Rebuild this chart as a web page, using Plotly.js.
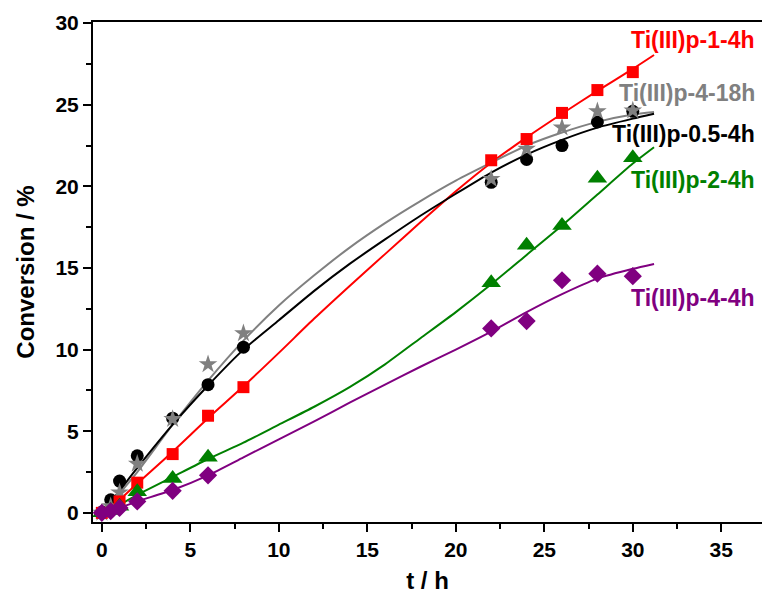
<!DOCTYPE html>
<html><head><meta charset="utf-8">
<script src="https://cdn.plot.ly/plotly-3.0.1.min.js"></script>
<style>html,body{margin:0;padding:0;background:#fff;}</style>
</head><body><div id="chart" style="width:762px;height:595px;"></div>
<script>
// ---- measured data ----
const tBlack = [0, 0.5, 1, 2, 4, 6, 8, 22, 24, 26, 28, 30];
const yBlack = [0.05, 0.8, 1.95, 3.5, 5.8, 7.85, 10.15, 20.25, 21.65, 22.5, 23.95, 24.6];
const tGrey = [0, 0.5, 1, 2, 4, 6, 8, 22, 24, 26, 28, 30];
const yGrey = [0, 0.4, 1.25, 3.0, 5.75, 9.1, 11.0, 20.45, 22.3, 23.6, 24.6, 24.65];
const tRed = [0, 1, 2, 4, 6, 8, 22, 24, 26, 28, 30];
const yRed = [0, 0.7, 1.85, 3.6, 5.95, 7.7, 21.6, 22.9, 24.5, 25.9, 27.0];
const tGreen = [0, 0.5, 1, 2, 4, 6, 22, 24, 26, 28, 30];
const yGreen = [0, 0.15, 0.4, 1.3, 2.1, 3.4, 14.1, 16.4, 17.6, 20.5, 21.75];
const tPurple = [0, 0.5, 1, 2, 4, 6, 22, 24, 26, 28, 30];
const yPurple = [0, 0.1, 0.3, 0.7, 1.35, 2.3, 11.3, 11.75, 14.25, 14.65, 14.5];

// fitted curves
const fitT = [0, 1, 2, 4, 6, 8, 10, 12, 14, 16, 18, 20, 22, 24, 26, 28, 30, 31.2];
const fitRed = [0, 0.8, 1.8, 3.75, 5.8, 7.75, 9.8, 11.9, 13.9, 15.85, 17.8, 19.7, 21.45, 23.0, 24.45, 25.85, 27.2, 28.05];
const fitBlack = [0, 1.35, 2.75, 5.4, 7.8, 10.0, 11.8, 13.6, 15.25, 16.75, 18.2, 19.55, 20.85, 21.95, 22.85, 23.6, 24.15, 24.45];
const fitGrey = [0, 1.2, 2.5, 5.4, 8.1, 10.55, 12.7, 14.55, 16.25, 17.75, 19.1, 20.35, 21.45, 22.5, 23.3, 23.95, 24.4, 24.55];
const fitGreen = [0, 0.5, 1.1, 2.2, 3.3, 4.3, 5.4, 6.5, 7.7, 9.1, 10.7, 12.3, 14.0, 15.8, 17.6, 19.5, 21.4, 22.4];
const fitPurple = [0, 0.3, 0.7, 1.4, 2.3, 3.4, 4.5, 5.6, 6.75, 7.85, 8.95, 10.0, 11.1, 12.3, 13.4, 14.35, 14.95, 15.25];

const seriesNames = ["Ti(III)p-1-4h", "Ti(III)p-4-18h", "Ti(III)p-0.5-4h", "Ti(III)p-2-4h", "Ti(III)p-4-4h"];
const labelY = [28.95, 25.7, 23.2, 20.4, 13.15];
const xTicks = [0, 5, 10, 15, 20, 25, 30, 35];
const yTicks = [0, 5, 10, 15, 20, 25, 30];

const RED = "#FF0000", GREY = "#808080", BLACK = "#000000", GREEN = "#008000", PURPLE = "#800080";
const colors = [RED, GREY, BLACK, GREEN, PURPLE];

function line(y, c) {
  return {x: fitT, y: y, mode: "lines", line: {color: c, width: 2, shape: "spline", smoothing: 0.6}, hoverinfo: "skip"};
}
function pts(x, y, c, sym, size) {
  return {x: x, y: y, mode: "markers", marker: {color: c, symbol: sym, size: size, line: {width: 0}}};
}

const data = [
  line(fitRed, RED), line(fitGrey, GREY), line(fitBlack, BLACK), line(fitGreen, GREEN), line(fitPurple, PURPLE),
  pts(tBlack, yBlack, BLACK, "circle", 13),
  pts(tGrey, yGrey, GREY, "star", 14),
  pts(tRed, yRed, RED, "square", 12),
  pts(tGreen, yGreen, GREEN, "triangle-up", 17),
  pts(tPurple, yPurple, PURPLE, "diamond", 14)
];

const tickFont = {family: "Arial, 'Liberation Sans', sans-serif", size: 21, color: "#000", weight: 700};
const titleFont = {family: "Arial, 'Liberation Sans', sans-serif", size: 24, color: "#000", weight: 700};

const annotations = seriesNames.map((n, i) => ({
  x: 37.0, y: labelY[i], xref: "x", yref: "y", text: n, showarrow: false,
  xanchor: "right", yanchor: "middle",
  font: {family: "Arial, 'Liberation Sans', sans-serif", size: 23, color: colors[i], weight: 700}
}));

const layout = {
  width: 762, height: 595,
  margin: {l: 93, r: 0, t: 22, b: 73},
  paper_bgcolor: "#fff", plot_bgcolor: "#fff",
  showlegend: false,
  xaxis: {
    range: [-0.5, 37.3], tickvals: xTicks, ticks: "outside", ticklen: 8, tickwidth: 2, tickcolor: "#000",
    minor: {ticks: "outside", dtick: 2.5, tick0: 0, ticklen: 5, tickwidth: 2, tickcolor: "#000"},
    showline: true, linewidth: 2, linecolor: "#000", mirror: true,
    showgrid: false, zeroline: false, tickfont: tickFont,
    title: {text: "t / h", font: titleFont, standoff: 12}
  },
  yaxis: {
    range: [-0.56, 30.07], tickvals: yTicks, ticks: "outside", ticklen: 8, tickwidth: 2, tickcolor: "#000",
    minor: {ticks: "outside", dtick: 2.5, tick0: 0, ticklen: 5, tickwidth: 2, tickcolor: "#000"},
    showline: true, linewidth: 2, linecolor: "#000",
    showgrid: false, zeroline: false, tickfont: tickFont,
    title: {text: "Conversion / %", font: titleFont, standoff: 14}
  },
  annotations: annotations
};

Plotly.newPlot("chart", data, layout, {displayModeBar: false, staticPlot: true});
</script>
</body></html>
